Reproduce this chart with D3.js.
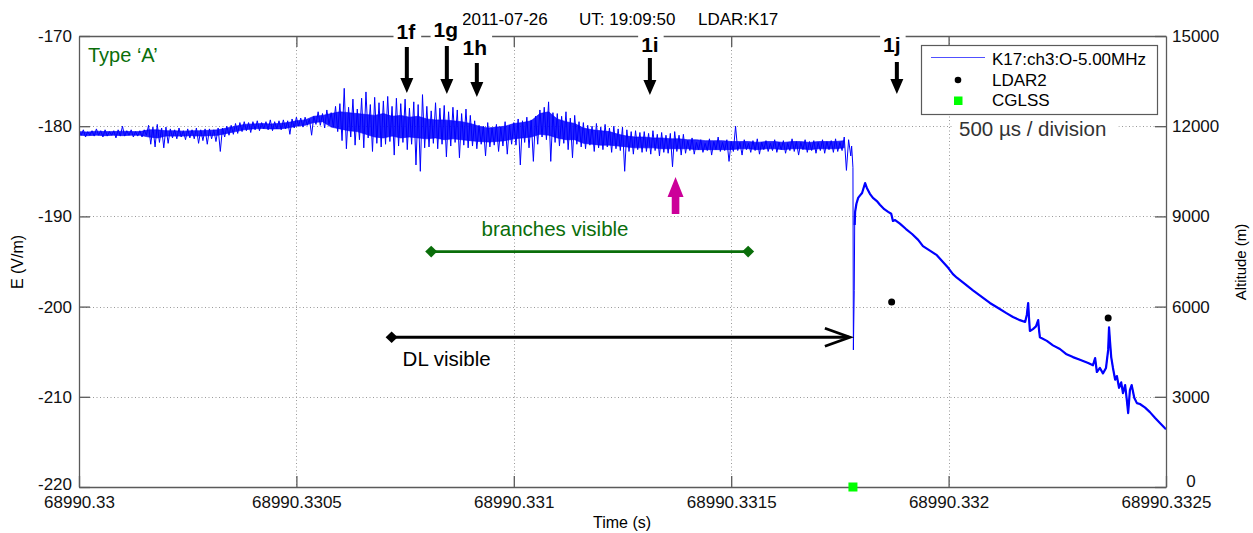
<!DOCTYPE html>
<html>
<head>
<meta charset="utf-8">
<script src="https://cdn.jsdelivr.net/npm/d3@7"></script>
<style>
  body { margin: 0; background: #fff; }
  text { font-family: "Liberation Sans", Arial, sans-serif; }
</style>
</head>
<body>
<svg id="chart" width="1253" height="533"></svg>
<script>
// --- data ---
const T0 = 68990.33;
const T1 = 68990.3325;
const timeTicks = [68990.33, 68990.3305, 68990.331, 68990.3315, 68990.332, 68990.3325];
const timeTickLabels = ['68990.33', '68990.3305', '68990.331', '68990.3315', '68990.332', '68990.3325'];
const eTicks = [-220, -210, -200, -190, -180, -170];
const altTicks = [0, 3000, 6000, 9000, 12000, 15000];

// before the return stroke: dense core of the trace, 20 µs bins from T0
const coreTop = [
  -180.6, -180.65, -180.55, -180.6, -180.6, -180.55, -180.6, -180.6,
  -180.4, -180.4, -180.5,
  -180.5, -180.55, -180.5, -180.5, -180.45,
  -180.4, -180.2, -180.0, -179.8,
  -179.75, -179.7, -179.75, -179.7, -179.6,
  -179.4, -179.3,
  -178.9, -178.8,
  -178.6, -178.4, -178.5, -178.6,
  -178.7, -178.8, -178.6, -178.9, -178.8, -179.0, -178.9,
  -179.2, -179.3, -179.3, -179.4, -179.5, -179.7,
  -180.0, -180.2, -180.1, -180.0,
  -179.7, -179.6, -179.4,
  -178.6, -178.4,
  -179.2, -179.5, -179.7,
  -180.2, -180.4, -180.5, -180.6, -180.9,
  -181.1, -181.2, -181.2, -181.3, -181.3, -181.4, -181.4,
  -181.5, -181.5, -181.6, -181.6, -181.6, -181.7,
  -181.7, -181.7, -181.8, -181.7, -181.7, -181.8, -181.7, -181.7, -181.8, -181.7, -181.7, -181.7, -181.6
];
const coreBottom = [
  -181.0, -181.05, -181.0, -181.05, -181.0, -181.05, -181.0, -181.0,
  -181.2, -181.3, -181.1,
  -181.1, -181.1, -181.05, -181.1, -181.05,
  -181.0, -180.8, -180.6, -180.4,
  -180.3, -180.25, -180.3, -180.3, -180.2,
  -180.0, -179.9,
  -179.6, -179.5,
  -180.1, -180.3, -180.5, -180.6,
  -180.9, -181.2, -181.3, -181.1, -181.3, -181.2, -181.3,
  -181.4, -181.3, -181.5, -181.4, -181.5, -181.6,
  -181.7, -181.75, -181.7, -181.6,
  -181.4, -181.3, -181.2,
  -180.9, -181.0,
  -181.3, -181.5, -181.5,
  -181.9, -182.0, -182.1, -182.1, -182.2,
  -182.3, -182.4, -182.4, -182.4, -182.5, -182.5, -182.5,
  -182.5, -182.6, -182.6, -182.6, -182.6, -182.6,
  -182.5, -182.5, -182.6, -182.5, -182.5, -182.6, -182.5, -182.5, -182.6, -182.5, -182.5, -182.5, -182.4
];

// spikes around the core: top / bottom of the trace in 10 µs bins from T0
const noiseHigh = [
  -180.5, -180.4, -180.6, -180.5, -180.3, -180.5, -180.4, -180.6, -180.5, -180.4,
  -180.0, -180.5, -180.4, -180.6, -180.5, -180.4, -179.9, -180.1, -179.8, -180.2,
  -180.1, -180.3, -180.4, -180.2, -180.5, -180.3, -180.4, -180.2, -180.4, -180.3,
  -180.3, -180.4, -180.2, -180.2, -180.0, -179.9, -179.7, -179.6, -179.5, -179.6,
  -179.5, -179.4, -179.6, -179.5, -179.3, -179.5, -179.4, -179.3, -179.4, -179.2,
  -179.0, -179.1, -179.0, -179.2, -178.9, -178.4, -178.6, -178.2, -178.5, -177.8,
  -177.5, -175.8, -177.9, -177.0, -178.1, -176.9, -176.2, -177.6, -176.8, -177.4,
  -177.2, -176.7, -177.8, -176.9, -177.5, -177.0, -178.0, -177.3, -177.6, -176.5,
  -177.8, -178.3, -177.4, -178.0, -177.7, -178.4, -177.9, -178.2, -178.6, -178.1,
  -178.8, -179.4, -179.9, -180.0, -179.6, -180.2, -179.8, -180.1, -179.5, -179.9,
  -179.6, -179.2, -179.4, -179.0, -179.3, -178.9, -178.2, -177.9, -177.3, -178.5,
  -178.6, -178.9, -178.4, -179.1, -178.8, -179.5, -179.6, -179.9, -180.0, -179.7,
  -180.1, -179.8, -180.2, -180.0, -180.3, -180.1, -180.4, -180.6, -180.5, -180.7,
  -180.6, -180.8, -180.5, -180.9, -180.7, -181.0, -180.8, -180.6, -181.0, -180.9,
  -181.6, -181.3, -181.8, -181.5, -181.9, -181.4, -181.7, -181.2, -181.8, -181.5,
  -181.7, -180.0, -181.8, -181.5, -181.9, -181.6, -181.4, -181.8, -181.6, -181.9,
  -181.5, -181.8, -181.6, -181.9, -181.4, -181.7, -181.8, -181.5, -181.7, -181.6,
  -181.8, -181.5, -181.7, -181.6, -181.4, -181.8, -181.2, -181.5
];
const noiseLow = [
  -181.0, -181.2, -181.0, -181.1, -181.0, -181.2, -181.1, -181.0, -181.3, -181.1,
  -181.1, -181.0, -181.2, -181.1, -181.2, -181.0, -182.0, -182.3, -181.8, -182.4,
  -181.9, -181.3, -181.4, -181.2, -181.5, -181.3, -181.4, -181.9, -181.6, -182.0,
  -181.4, -181.7, -182.8, -181.2, -181.0, -180.9, -180.8, -180.6, -180.5, -180.7,
  -180.4, -180.5, -180.3, -180.4, -180.5, -180.3, -180.4, -180.3, -180.9, -180.2,
  -180.0, -180.1, -179.9, -181.0, -179.8, -179.9, -180.2, -179.8, -180.1, -180.6,
  -181.6, -182.5, -181.2, -182.1, -181.5, -182.4, -181.3, -182.8, -181.9, -182.3,
  -182.0, -181.7, -183.2, -182.2, -181.8, -182.6, -182.0, -184.3, -185.0, -182.4,
  -182.3, -181.9, -182.5, -182.0, -183.4, -182.2, -181.8, -183.5, -182.1, -182.4,
  -182.2, -182.5, -182.0, -183.3, -182.3, -182.1, -182.8, -182.2, -183.1, -182.0,
  -182.1, -184.3, -181.8, -182.4, -183.9, -182.0, -181.2, -181.5, -183.9, -181.8,
  -182.2, -181.9, -182.6, -183.5, -182.0, -182.3, -182.5, -182.1, -182.8, -182.4,
  -182.6, -182.3, -182.9, -182.5, -182.7, -185.0, -182.8, -183.1, -182.6, -182.9,
  -182.8, -183.1, -182.7, -183.3, -182.9, -183.0, -184.5, -182.8, -183.2, -183.0,
  -182.7, -183.1, -182.6, -182.9, -182.7, -183.2, -182.6, -182.8, -182.7, -183.9,
  -182.8, -182.7, -183.2, -182.6, -182.9, -182.7, -183.1, -182.6, -182.8, -182.7,
  -182.9, -182.6, -183.0, -182.7, -182.8, -183.2, -182.6, -182.9, -182.7, -183.0,
  -182.7, -183.0, -182.6, -182.9, -182.8, -182.7, -184.9, -183.3
];

// return stroke and decay (µs from T0, V/m)
const decayUs = [
  1777, 1779, 1780, 1781, 1783, 1784, 1785, 1788, 1792, 1796,
  1801, 1808, 1812, 1819, 1826, 1835, 1842, 1852, 1861, 1868,
  1872, 1877, 1888, 1902, 1916, 1930, 1941, 1957, 1973, 1987,
  1999, 2010, 2019, 2038, 2056, 2077, 2095, 2114, 2132, 2148,
  2164, 2176, 2180, 2183, 2185, 2187, 2194, 2201, 2206, 2208,
  2210, 2226, 2240, 2256, 2270, 2286, 2302, 2321, 2332, 2337,
  2341, 2348, 2355, 2362, 2367, 2369, 2371, 2374, 2378, 2383,
  2387, 2392, 2397, 2401, 2406, 2410, 2413, 2417, 2421, 2427,
  2433, 2440, 2452, 2463, 2475, 2486, 2500
];
const decayE = [
  -182.2, -183.75, -184.6, -204.8, -198.2, -190.95, -189.5, -188.6, -187.95, -187.7,
  -187.4, -186.3, -186.85, -187.5, -187.95, -188.3, -188.7, -189.2, -189.5, -189.7,
  -190.5, -190.4, -190.8, -191.4, -191.95, -192.6, -193.3, -193.8, -194.3, -195.05,
  -195.7, -196.4, -196.8, -197.5, -198.2, -198.95, -199.6, -200.15, -200.7, -201.15,
  -201.5, -201.7, -200.9, -199.6, -201.3, -202.7, -202.5, -202.2, -201.5, -202.6,
  -203.4, -203.8, -204.3, -204.7, -205.25, -205.6, -205.9, -206.25, -206.5, -205.7,
  -207.25, -206.8, -207.4, -206.8, -204.8, -202.3, -203.7, -205.6, -206.8, -208.1,
  -207.7, -209.0, -208.4, -209.6, -208.7, -210.4, -211.8, -209.25, -208.7, -210.1,
  -210.7, -210.8, -211.2, -211.7, -212.35, -212.9, -213.6
];

const ldarUs = [1869, 2367];
const ldarAlt = [6150, 5620];
const cglssUs = [1780];
const cglssAlt = [0];

const markLabels = ['1f', '1g', '1h', '1i', '1j'];
const markUs = [754, 846, 915, 1313, 1881];
const branchesUs = [810, 1539];
const branchesE = -193.9;
const dlUs = [719, 1773];
const dlE = -203.4;
const pinkArrowUs = 1372;

// --- layout ---
const plotL = 79, plotR = 1166, plotT = 36, plotB = 487;
const axisColor = '#5a5a5a';
const green = '#0a6e0a';

const svg = d3.select('#chart');
const us = v => T0 + v * 1e-6;
const x = d3.scaleLinear().domain([T0, T1]).range([plotL, plotR]);
const yE = d3.scaleLinear().domain([-220, -170]).range([plotB, plotT]);
const yAlt = d3.scaleLinear().domain([0, 15000]).range([plotB, plotT]);

// grid
const grid = svg.append('g')
  .attr('stroke', '#9a9a9a')
  .attr('stroke-width', 1)
  .attr('stroke-dasharray', '1,2.5');
grid.selectAll('line.v').data(timeTicks.slice(1, -1)).join('line')
  .attr('x1', d => Math.round(x(d)) + 0.5).attr('x2', d => Math.round(x(d)) + 0.5)
  .attr('y1', plotT).attr('y2', plotB);
grid.selectAll('line.h').data(eTicks.slice(1, -1)).join('line')
  .attr('y1', d => Math.round(yE(d)) + 0.5).attr('y2', d => Math.round(yE(d)) + 0.5)
  .attr('x1', plotL).attr('x2', plotR);

// trace
svg.append('clipPath').attr('id', 'plot')
  .append('rect').attr('x', plotL).attr('y', plotT)
  .attr('width', plotR - plotL).attr('height', plotB - plotT);

const noisePts = [];
noiseHigh.forEach((h, i) => {
  noisePts.push([i * 10, h]);
  noisePts.push([i * 10 + 5, noiseLow[i]]);
});
const decayPts = decayUs.map((t, i) => [t, decayE[i]]);
const corePts = coreTop.map((t, i) => [i * 20, t, coreBottom[i]]);

const line = d3.line().x(d => x(us(d[0]))).y(d => yE(d[1]));
const core = d3.area().x(d => x(us(d[0]))).y0(d => yE(d[2])).y1(d => yE(d[1]));
const traceG = svg.append('g').attr('clip-path', 'url(#plot)');
traceG.append('path')
  .attr('d', core(corePts))
  .attr('fill', '#0000ff').attr('fill-opacity', 0.85)
  .attr('stroke', '#0000ff').attr('stroke-width', 1).attr('stroke-opacity', 0.6);
traceG.append('path')
  .attr('d', line(noisePts.concat(decayPts)))
  .attr('fill', 'none').attr('stroke', '#0000ff').attr('stroke-width', 1);
traceG.append('path')
  .attr('d', line(decayPts.slice(5)))
  .attr('fill', 'none').attr('stroke', '#0000ff').attr('stroke-width', 2.2)
  .attr('stroke-linejoin', 'round');

// axes
const styleAxis = g => {
  g.select('.domain').attr('stroke', axisColor).attr('stroke-width', 1.3);
  g.selectAll('.tick line').attr('stroke', axisColor).attr('stroke-width', 1.3);
  g.selectAll('.tick text').attr('fill', '#111')
    .style('font-family', '"Liberation Sans", Arial, sans-serif');
};
svg.append('g').attr('transform', `translate(0,${plotB})`)
  .call(d3.axisBottom(x).tickValues(timeTicks).tickFormat((d, i) => timeTickLabels[i])
    .tickSizeInner(-11).tickSizeOuter(0).tickPadding(9))
  .attr('font-size', 17).call(styleAxis);
svg.append('g').attr('transform', `translate(0,${plotT})`)
  .call(d3.axisTop(x).tickValues(timeTicks.slice(1, -1)).tickFormat('')
    .tickSizeInner(-11).tickSizeOuter(0))
  .call(styleAxis);
svg.append('g').attr('transform', `translate(${plotL},0)`)
  .call(d3.axisLeft(yE).tickValues(eTicks).tickFormat(d => String(d))
    .tickSizeInner(-11).tickSizeOuter(0).tickPadding(7))
  .attr('font-size', 17).call(styleAxis)
  .selectAll('.tick text').filter(d => d === -220).attr('y', -3);
svg.append('g').attr('transform', `translate(${plotR},0)`)
  .call(d3.axisRight(yAlt).tickValues(altTicks).tickFormat(d => String(d))
    .tickSizeInner(-11).tickSizeOuter(0).tickPadding(6))
  .attr('font-size', 17).call(styleAxis)
  .selectAll('.tick text').filter(d => d === 0).attr('y', -6).attr('x', 25).attr('text-anchor', 'middle');

// axis titles
svg.append('text').attr('x', 622).attr('y', 528).attr('text-anchor', 'middle')
  .attr('font-size', 16).text('Time (s)');
svg.append('text').attr('transform', 'translate(23,262) rotate(-90)').attr('text-anchor', 'middle')
  .attr('font-size', 16).text('E (V/m)');
svg.append('text').attr('transform', 'translate(1246,262) rotate(-90)').attr('text-anchor', 'middle')
  .attr('font-size', 15).text('Altitude (m)');

// header
svg.append('text').attr('x', 462).attr('y', 25).attr('font-size', 17).text('2011-07-26');
svg.append('text').attr('x', 579).attr('y', 25).attr('font-size', 17).text('UT: 19:09:50');
svg.append('text').attr('x', 698).attr('y', 25).attr('font-size', 17).text('LDAR:K17');

// annotations
svg.append('text').attr('x', 88).attr('y', 62).attr('font-size', 20).attr('fill', green)
  .text('Type \u2018A\u2019');

const markLayout = [
  { base: 39, top: 47, tip: 93, dx: -1 },
  { base: 37, top: 46, tip: 94, dx: -1 },
  { base: 55, top: 63, tip: 97, dx: -2 },
  { base: 52, top: 58, tip: 95, dx: 0 },
  { base: 52, top: 62, tip: 94, dx: -5 }
];
const downArrow = (cx, y0, y1) => {
  const sw = 2, hw = 6.5, hl = 15;
  return `M${cx - sw},${y0}L${cx + sw},${y0}L${cx + sw},${y1 - hl}L${cx + hw},${y1 - hl}` +
    `L${cx},${y1}L${cx - hw},${y1 - hl}L${cx - sw},${y1 - hl}Z`;
};
markLabels.forEach((lab, i) => {
  const cx = x(us(markUs[i]));
  const L = markLayout[i];
  const g = svg.append('g');
  const t = g.append('text').attr('x', cx + L.dx).attr('y', L.base)
    .attr('text-anchor', 'middle').attr('font-size', 21).attr('font-weight', 'bold').text(lab);
  const b = t.node().getBBox();
  g.insert('rect', 'text').attr('x', b.x - 3).attr('y', b.y - 1)
    .attr('width', b.width + 8).attr('height', b.height + 2).attr('fill', '#fff');
  g.append('path').attr('d', downArrow(cx, L.top, L.tip)).attr('fill', '#000');
});

// pink arrow
{
  const cx = x(us(pinkArrowUs));
  const tip = 177, hb = 197, bot = 214, hw = 8, sw = 3.8;
  svg.append('path').attr('fill', '#cc0099')
    .attr('d', `M${cx},${tip}L${cx + hw},${hb}L${cx + sw},${hb}L${cx + sw},${bot}` +
      `L${cx - sw},${bot}L${cx - sw},${hb}L${cx - hw},${hb}Z`);
}

const diamond = 'M0,-5.8L6,0L0,5.8L-6,0Z';

// branches visible
svg.append('line')
  .attr('x1', x(us(branchesUs[0]))).attr('x2', x(us(branchesUs[1])))
  .attr('y1', yE(branchesE)).attr('y2', yE(branchesE))
  .attr('stroke', green).attr('stroke-width', 2.6);
svg.selectAll('path.bd').data(branchesUs).join('path')
  .attr('d', diamond).attr('fill', green)
  .attr('transform', d => `translate(${x(us(d))},${yE(branchesE)})`);
svg.append('text').attr('x', 555).attr('y', 236).attr('text-anchor', 'middle')
  .attr('font-size', 20.5).attr('fill', green).text('branches visible');

// DL visible
{
  const x0 = x(us(dlUs[0])), x1 = x(us(dlUs[1])), yy = yE(dlE);
  svg.append('line').attr('x1', x0).attr('x2', x1 - 1).attr('y1', yy).attr('y2', yy)
    .attr('stroke', '#000').attr('stroke-width', 2.8);
  svg.append('path').attr('d', `M${x1 - 25},${yy - 9}L${x1},${yy}L${x1 - 25},${yy + 9}`)
    .attr('fill', 'none').attr('stroke', '#000').attr('stroke-width', 2.8);
  svg.append('path').attr('d', diamond).attr('fill', '#000')
    .attr('transform', `translate(${x0},${yy})`);
  svg.append('text').attr('x', x0 + 11).attr('y', 366).attr('font-size', 20.5).text('DL visible');
}

// 500 µs / division
{
  const t = svg.append('text').attr('x', 959).attr('y', 136).attr('font-size', 20.5)
    .attr('fill', '#333').text('500 \u00b5s / division');
  const b = t.node().getBBox();
  svg.insert('rect', () => t.node()).attr('x', b.x - 5).attr('y', b.y)
    .attr('width', b.width + 17).attr('height', b.height).attr('fill', '#fff');
}

// legend
{
  const g = svg.append('g');
  g.append('rect').attr('x', 921.5).attr('y', 45.5).attr('width', 236).attr('height', 69)
    .attr('fill', '#fff').attr('stroke', axisColor).attr('stroke-width', 1.2);
  g.append('line').attr('x1', 931).attr('x2', 985).attr('y1', 57.5).attr('y2', 57.5)
    .attr('stroke', '#5050ff').attr('stroke-width', 1.2);
  g.append('circle').attr('cx', 958).attr('cy', 80).attr('r', 3.3).attr('fill', '#000');
  g.append('rect').attr('x', 954).attr('y', 96.5).attr('width', 8.5).attr('height', 8.5)
    .attr('fill', '#00ff00');
  const labels = ['K17:ch3:O-5.00MHz', 'LDAR2', 'CGLSS'];
  const bases = [65, 86, 106];
  labels.forEach((l, i) => {
    g.append('text').attr('x', 992).attr('y', bases[i]).attr('font-size', 17).text(l);
  });
}

// LDAR2 and CGLSS points (altitude axis)
svg.selectAll('circle.ldar').data(ldarUs).join('circle')
  .attr('cx', (d) => x(us(d))).attr('cy', (d, i) => yAlt(ldarAlt[i]))
  .attr('r', 3.5).attr('fill', '#000');
svg.selectAll('rect.cglss').data(cglssUs).join('rect')
  .attr('x', d => x(us(d)) - 4.5).attr('y', (d, i) => yAlt(cglssAlt[i]) - 4.5)
  .attr('width', 9).attr('height', 9).attr('fill', '#00ff00');
</script>
</body>
</html>
